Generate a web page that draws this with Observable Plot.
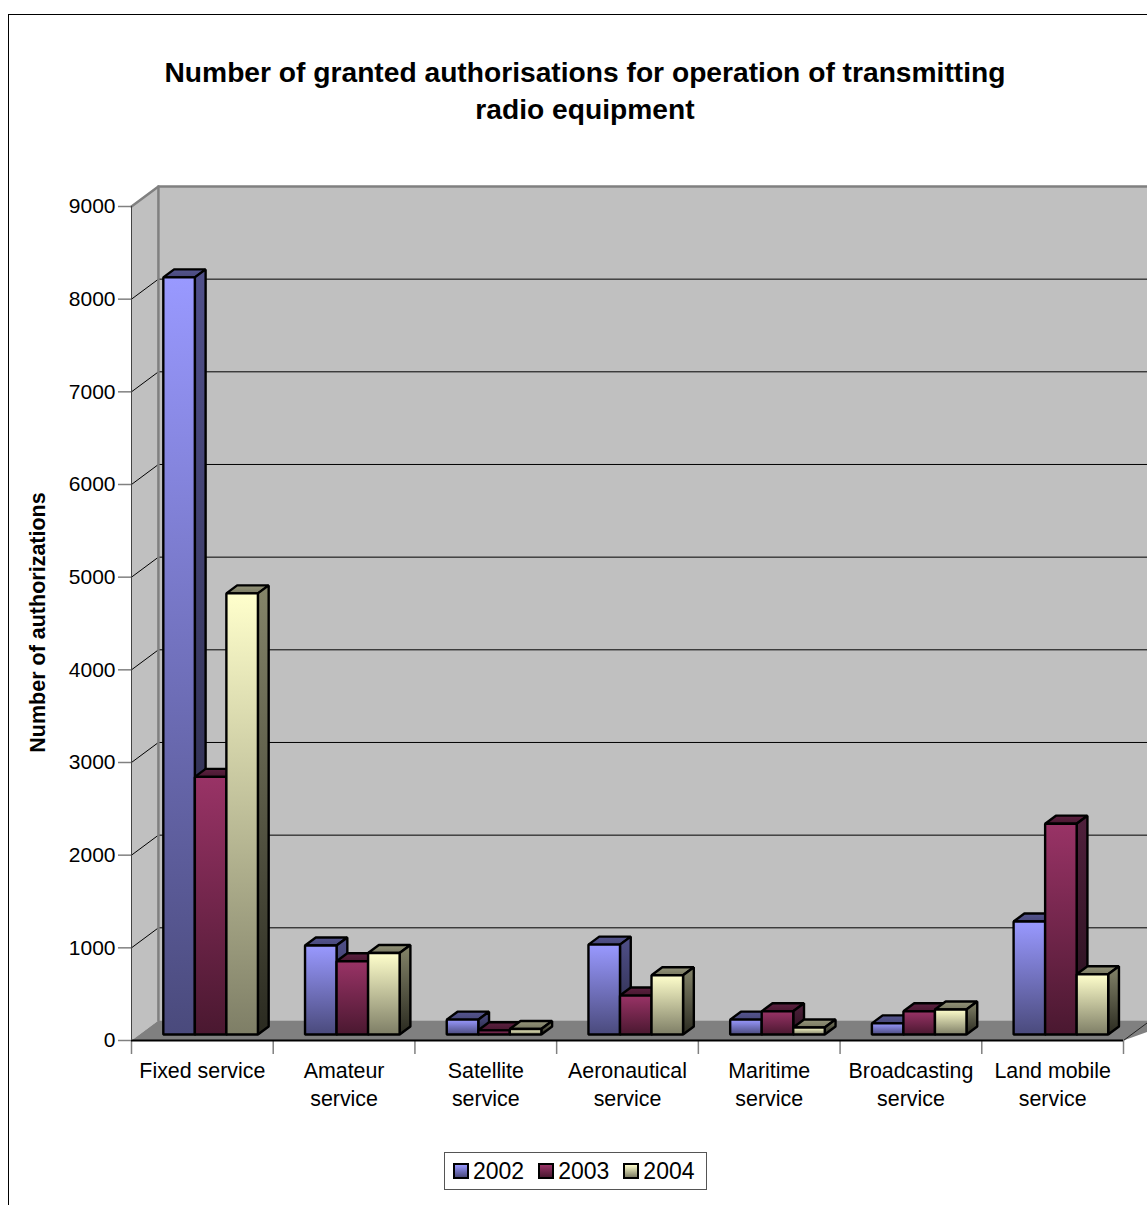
<!DOCTYPE html>
<html>
<head>
<meta charset="utf-8">
<script src="https://cdn.jsdelivr.net/npm/d3@7"></script>
<script src="https://cdn.jsdelivr.net/npm/@observablehq/plot@0.6"></script>
<style>
  html, body { margin: 0; padding: 0; background: #fff; overflow: hidden; height: 1205px; }
  body { font-family: "Liberation Sans", Arial, sans-serif; color: #000; }
  #frame { position: absolute; left: 8px; top: 14px; width: 1152px; height: 1200px;
           border-top: 1px solid #000; border-left: 1px solid #000; }
  #title { margin: 39px 0 22px; text-align: center; font-size: 28.2px; font-weight: bold; line-height: 37px; }
  #chart { margin-left: -9px; }
  #chart svg { display: block; }
  #legend { position: absolute; left: 435px; top: 1137px; width: 261px; height: 36px;
            border: 1px solid #555; display: flex; align-items: center; font-size: 23px; background: #fff; }
  #legend span.item { display: flex; align-items: center; margin-left: 8px; margin-right: 6px; }
  #legend i { display: block; width: 12px; height: 12px; border: 2px solid #000; margin-right: 4px; }
</style>
</head>
<body>
<div id="frame">
  <div id="title">Number of granted authorisations for operation of transmitting<br>radio equipment</div>
  <div id="chart"></div>
  <div id="legend"></div>
</div>
<script>
// Authorisations granted per radio service and year
const services = [
  "Fixed service", "Amateur\nservice", "Satellite\nservice", "Aeronautical\nservice",
  "Maritime\nservice", "Broadcasting\nservice", "Land mobile\nservice"
];
const years = ["2002", "2003", "2004"];
const values2002 = [8170, 960, 160, 970, 160, 120, 1220];
const values2003 = [2780, 790, 45, 420, 250, 250, 2275];
const values2004 = [4760, 880, 60, 640, 75, 270, 650];
const seriesValues = [values2002, values2003, values2004];
const yTicks = [0, 1000, 2000, 3000, 4000, 5000, 6000, 7000, 8000, 9000];

// Face colours per year: [front top, front bottom, side top, side bottom, cap top, cap bottom]
const shades = [
  ["#9999ff", "#4a4a7c", "#50508a", "#26263f", "#55558f", "#48487a"],
  ["#993366", "#4a1830", "#50203c", "#26101c", "#5c2040", "#481830"],
  ["#ffffcc", "#7e7e66", "#85856a", "#2a2a20", "#95957a", "#777760"]
];

// Oblique projection: depth 0 is the front of the floor, depth 1 the back wall.
const depthX = 0.19;   // category units at full depth
const depthY = 216;    // authorisations at full depth
const project = (pos, value, depth) => ({x: pos + depth * depthX, y: value + depth * depthY});
const quad = (...corners) => corners.map(([p, v, d]) => project(p, v, d));

const face = (points, options) =>
  Plot.line(points, {x: "x", y: "y", curve: "linear-closed", ...options});

const gridColor = "#000";
const yMax = 9000;
const xEnd = 7.2;  // the back wall runs on past the right edge of the page

const marks = [];

// Gradient definitions shared by the bar faces
marks.push(() => {
  const g = d3.create("svg:g");
  const defs = g.append("defs");
  const add = (id, a, b) => {
    const lg = defs.append("linearGradient").attr("id", id)
      .attr("x1", 0).attr("x2", 0).attr("y1", 0).attr("y2", 1);
    lg.append("stop").attr("offset", 0).attr("stop-color", a);
    lg.append("stop").attr("offset", 1).attr("stop-color", b);
  };
  shades.forEach((s, i) => {
    add(`front${i}`, s[0], s[1]);
    add(`side${i}`, s[2], s[3]);
    add(`cap${i}`, s[4], s[5]);
  });
  return g.node();
});

// Walls and floor
marks.push(face(quad([0, 0, 1], [xEnd, 0, 1], [xEnd, yMax, 1], [0, yMax, 1]), {fill: "#c0c0c0"}));
marks.push(face(quad([0, 0, 0], [0, 0, 1], [0, yMax, 1], [0, yMax, 0]), {fill: "#c0c0c0"}));
marks.push(face(quad([0, 0, 0], [0, 0, 1], [xEnd, 0, 1], [7, 0, 0]), {fill: "#808080"}));

// Gridlines across the side wall and the back wall
for (const v of yTicks.slice(1, -1)) {
  marks.push(Plot.line(quad([0, v, 0], [0, v, 1], [xEnd, v, 1]), {x: "x", y: "y", stroke: gridColor, strokeWidth: 1}));
}

// Wall outlines
marks.push(Plot.line(quad([0, yMax, 0], [0, yMax, 1], [xEnd, yMax, 1]), {x: "x", y: "y", stroke: "#808080", strokeWidth: 2.5}));
marks.push(Plot.line(quad([0, 0, 1], [0, yMax, 1]), {x: "x", y: "y", stroke: "#808080", strokeWidth: 2.5}));
marks.push(Plot.line(quad([7, 0, 0], [7, 0, 0.9]), {x: "x", y: "y", stroke: "#222", strokeWidth: 1}));

// Bars: each group sits in the middle of its category, a third of the way into the depth
const barWidth = 0.2225;
const groupStart = 0.1675;
const d0 = 0.3, d1 = 0.7;
services.forEach((_, c) => {
  seriesValues.forEach((vals, s) => {
    const v = vals[c];
    const a = c + groupStart + s * barWidth;
    const b = a + barWidth;
    const style = {stroke: "#000", strokeWidth: 2.4, strokeLinejoin: "miter"};
    marks.push(face(quad([a, v, d0], [b, v, d0], [b, v, d1], [a, v, d1]), {fill: `url(#cap${s})`, ...style}));
    marks.push(face(quad([b, 0, d0], [b, v, d0], [b, v, d1], [b, 0, d1]), {fill: `url(#side${s})`, ...style}));
    marks.push(face(quad([a, 0, d0], [b, 0, d0], [b, v, d0], [a, v, d0]), {fill: `url(#front${s})`, ...style}));
  });
});

// Axes
marks.push(Plot.axisX({
  ticks: d3.range(0, 8), tickSize: 14, tickFormat: () => "", stroke: "#808080", strokeWidth: 1.5, label: null
}));
marks.push(Plot.ruleY([0], {x1: 0, x2: 7, stroke: "#000", strokeWidth: 2}));
marks.push(Plot.ruleX([0], {y1: 0, y2: yMax, stroke: "#444", strokeWidth: 1}));
marks.push(Plot.axisY({
  ticks: yTicks, tickSize: 13, tickPadding: 3, stroke: "#808080", strokeWidth: 1.5,
  fill: "#000", fontSize: 21, tickFormat: d => String(d), label: null
}));
marks.push(Plot.text(services, {
  x: (_, i) => i + 0.5, y: 0, text: d => d, dy: 18, lineAnchor: "top",
  lineHeight: 1.31, fontSize: 21.4, fill: "#000"
}));
marks.push(Plot.text(["Number of authorizations"], {
  frameAnchor: "left", dx: -93, dy: -1, rotate: -90, textAnchor: "middle",
  fontWeight: "bold", fontSize: 21.5, fill: "#000"
}));

const chart = Plot.plot({
  width: 1147,
  height: 980,
  marginLeft: 131,
  marginRight: 24,
  marginTop: 56,
  marginBottom: 90,
  style: {fontFamily: "'Liberation Sans', Arial, sans-serif", background: "transparent", overflow: "hidden"},
  x: {domain: [0, 7], axis: null},
  y: {domain: [0, 9000], axis: null},
  marks
});
document.getElementById("chart").append(chart);

// Legend boxed below the plot
const legend = d3.select("#legend");
years.forEach((year, i) => {
  const item = legend.append("span").attr("class", "item");
  item.append("i").style("background", `linear-gradient(${shades[i][0]}, ${shades[i][1]})`);
  item.append("span").text(year);
});
</script>
</body>
</html>
